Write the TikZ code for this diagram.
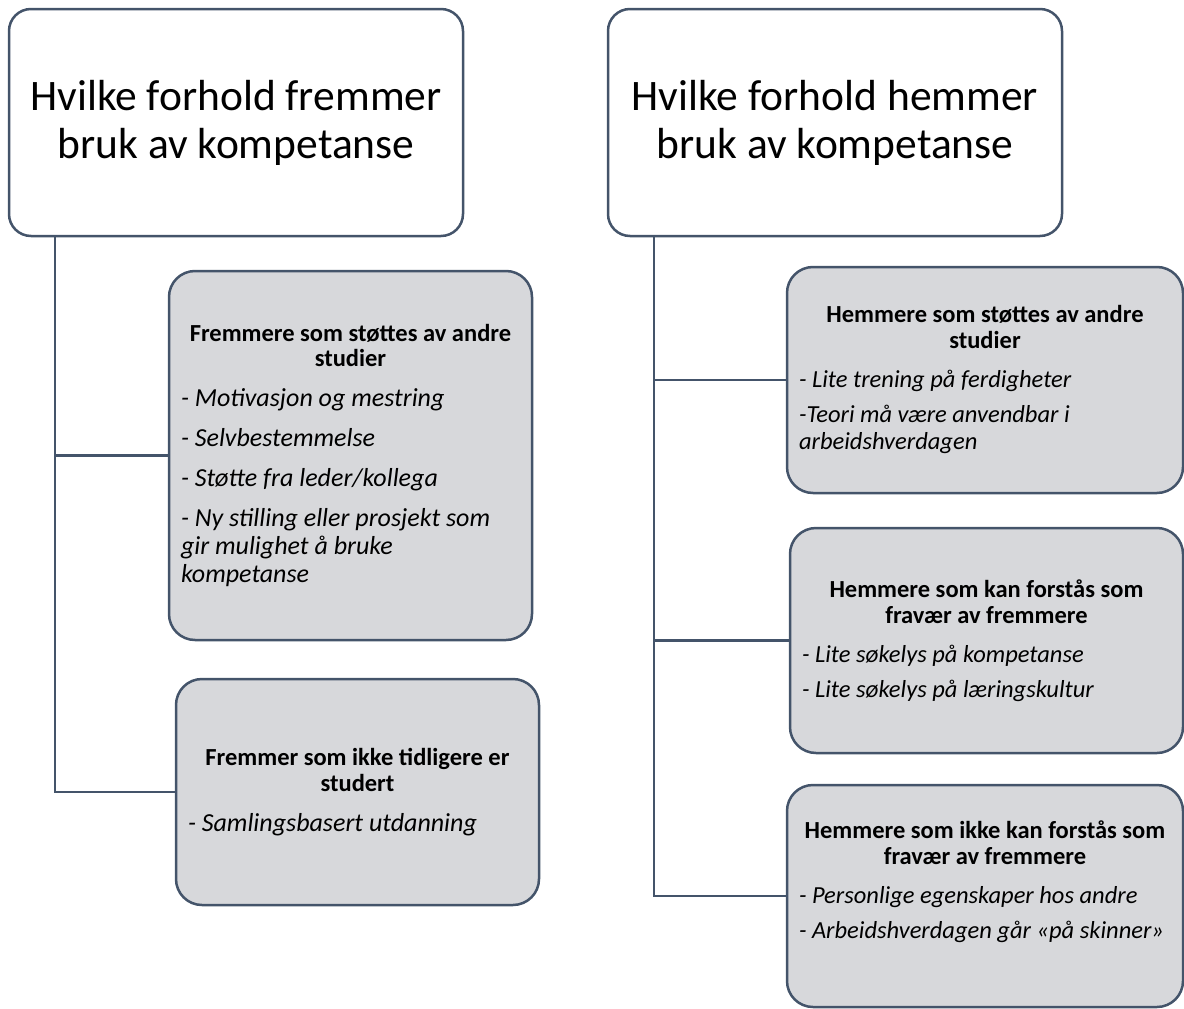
\documentclass[tikz,border=0pt]{standalone}
\usepackage{fontspec}
\setmainfont{Carlito}
\definecolor{edge}{HTML}{44546A}
\definecolor{boxfill}{HTML}{D7D8DB}
\newcommand\fixsp{\spaceskip=\fontdimen2\font plus \fontdimen3\font minus \fontdimen4\font\relax}
\newcommand\lhead[1]{{\centering\fontsize{24.5pt}{25.5pt}\selectfont\bfseries\fixsp #1\par}}
\newcommand\litem[1]{{\raggedright\fontsize{26pt}{28pt}\selectfont\itshape\fixsp #1\par}}
\newcommand\rhead[1]{{\centering\fontsize{24.5pt}{26pt}\selectfont\bfseries\fixsp #1\par}\vspace{4pt}}
\newcommand\ritem[1]{{\raggedright\fontsize{24.5pt}{27pt}\selectfont\itshape\fixsp #1\par}}
\tikzset{
  titlebox/.style={draw=edge, line width=2.5pt, rounded corners=22pt, fill=white,
    minimum width=454pt, minimum height=227pt, align=center,
    font=\fontsize{43.5}{48}\selectfont},
  gbox/.style={draw=edge, line width=2.5pt, rounded corners=26pt, fill=boxfill,
    inner xsep=12pt, inner ysep=0pt},
  gleft/.style={gbox, font={\fontsize{26pt}{28pt}\selectfont
    \setlength{\parindent}{0pt}\setlength{\parskip}{12pt}}},
  gright/.style={gbox, font={\fontsize{24.5pt}{27pt}\selectfont
    \setlength{\parindent}{0pt}\setlength{\parskip}{8pt}}},
  anchorbox/.style={gbox, draw=none, fill=none},
  link/.style={draw=edge, line width=2.5pt}
}
\begin{document}
\begin{tikzpicture}[x=1pt,y=-1pt]
\useasboundingbox (0,0) rectangle (1184,1009);
% title boxes
\node[titlebox] (t1) at (236,122.5) {Hvilke forhold fremmer\\bruk av kompetanse};
\node[titlebox] (t2) at (835,122.5) {Hvilke forhold hemmer\\bruk av kompetanse};
\coordinate (lt) at (55,236);
\coordinate (rt) at (654,236);
% connector anchors
\node[anchorbox, text width=339pt, minimum height=369pt] (l1) at (350.5,455.5) {};
\node[anchorbox, text width=339pt, minimum height=226pt] (l2) at (357.5,792) {};
\node[anchorbox, text width=372pt, minimum height=226pt] (r1) at (985,380) {};
\node[anchorbox, text width=369pt, minimum height=225pt] (r2) at (986.5,640.5) {};
\node[anchorbox, text width=372pt, minimum height=222pt] (r3) at (985,896) {};
\draw[link] (lt) |- (l1.west);
\draw[link] (lt) |- (l2.west);
\draw[link] (rt) |- (r1.west);
\draw[link] (rt) |- (r2.west);
\draw[link] (rt) |- (r3.west);
% content boxes
\node[gleft, text width=339pt, minimum height=369pt] (L1) at (350.5,455.5) {%
  \lhead{Fremmere som støttes av andre\\studier}
  \litem{- Motivasjon og mestring}
  \litem{- Selvbestemmelse}
  \litem{- Støtte fra leder/kollega}
  \litem{- Ny stilling eller prosjekt som\\gir mulighet å bruke\\kompetanse}};
\node[gleft, text width=339pt, minimum height=226pt] (L2) at (357.5,792) {%
  \lhead{Fremmer som ikke tidligere er\\studert}
  \litem{- Samlingsbasert utdanning}};
\node[gright, text width=372pt, minimum height=226pt] (R1) at (985,380) {%
  \rhead{Hemmere som støttes av andre\\studier}
  \ritem{- Lite trening på ferdigheter}
  \ritem{-Teori må være anvendbar i\\arbeidshverdagen}};
\node[gright, text width=369pt, minimum height=225pt] (R2) at (986.5,640.5) {%
  \rhead{Hemmere som kan forstås som\\fravær av fremmere}
  \ritem{- Lite søkelys på kompetanse}
  \ritem{- Lite søkelys på læringskultur}};
\node[gright, text width=372pt, minimum height=222pt] (R3) at (985,896) {%
  \rhead{Hemmere som ikke kan forstås som\\fravær av fremmere}
  \ritem{- Personlige egenskaper hos andre}
  \ritem{- Arbeidshverdagen går «på skinner»}\vspace*{28pt}\hrule height 0pt};
\end{tikzpicture}
\end{document}
